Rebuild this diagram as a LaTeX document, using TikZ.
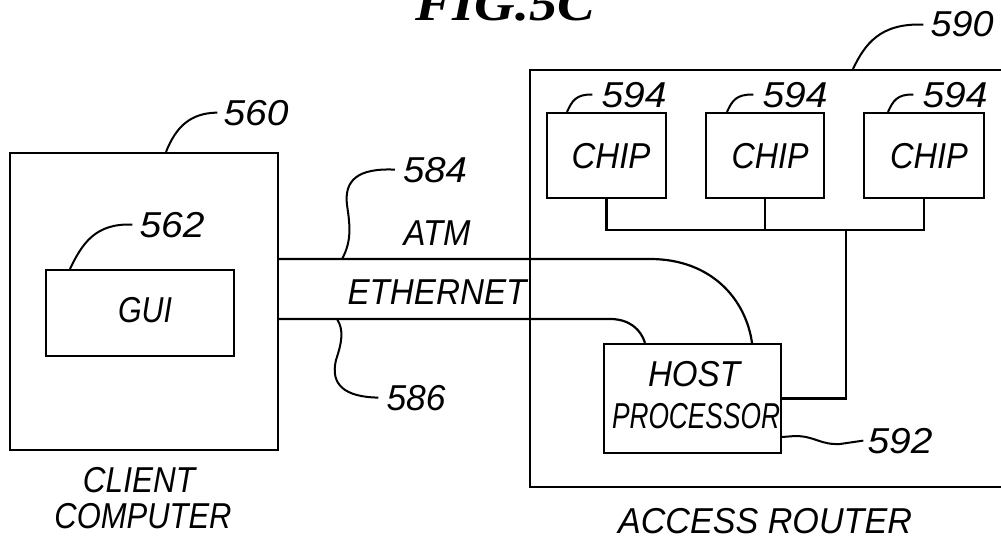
\documentclass[tikz,border=0pt]{standalone}
\usepackage{fontspec}
\setmainfont{Liberation Sans}
\newfontfamily\tfont{Liberation Serif}
\usetikzlibrary{calc}
\newcommand\fw[2]{\resizebox{#1pt}{\height}{#2}}
\tikzset{
  box/.style={draw, line width=2.2pt, inner sep=0pt},
  lab/.style={inner sep=0pt, anchor=base, font=\fontsize{36}{40}\selectfont\itshape},
  wire/.style={line width=2.2pt},
  lead/.style={line width=2pt},
}
\begin{document}
\begin{tikzpicture}[x=1pt,y=-1pt]
\useasboundingbox (0,0) rectangle (1001,543);
\clip (0,0) rectangle (1001,543);
% title
\node[inner sep=0pt, anchor=base, font=\tfont\fontsize{50}{54}\selectfont\bfseries\itshape] (title) at (505,21) {\fw{180}{FIG.5C}};
% client computer
\node[box, minimum width=268pt, minimum height=297pt] (cc) at (144,301.5) {};
\node[box, minimum width=188pt, minimum height=86pt] (gui) at (140,313) {};
\node[lab] (tgui) at (145,322) {\fw{54}{GUI}};
\node[lab] (n560) at (256,125) {\fw{65}{560}};
\node[lab] (n562) at (172,237) {\fw{65}{562}};
\node[lab] (tclient) at (139,492) {\fw{112}{CLIENT}};
\node[lab] (tcomp) at (143,528) {\fw{177}{COMPUTER}};
% access router
\node[box, minimum width=480pt, minimum height=417pt] (ar) at (770,278.5) {};
\node[lab] (n590) at (962,37) {\fw{63}{590}};
\node[lab] (tar) at (765,533) {\fw{294}{ACCESS ROUTER}};
\node[box, minimum width=119pt, minimum height=85pt] (c1) at (606.5,155.5) {};
\node[box, minimum width=118pt, minimum height=85pt] (c2) at (765,155.5) {};
\node[box, minimum width=120pt, minimum height=85pt] (c3) at (924,155.5) {};
\node[lab] (tc1) at (611,168) {\fw{79}{CHIP}};
\node[lab] (tc2) at (770,168) {\fw{77}{CHIP}};
\node[lab] (tc3) at (929,168) {\fw{78}{CHIP}};
\node[lab] (n594a) at (634,107) {\fw{65}{594}};
\node[lab] (n594b) at (795,107) {\fw{65}{594}};
\node[lab] (n594c) at (955,107) {\fw{65}{594}};
\node[box, minimum width=177pt, minimum height=109pt] (hp) at (692.5,398.5) {};
\node[lab] (thost) at (694,386) {\fw{92}{HOST}};
\node[lab] (tproc) at (696,428) {\fw{168}{PROCESSOR}};
\node[lab] (n592) at (900,453) {\fw{65}{592}};
% links
\node[lab] (tatm) at (437,245) {\fw{67}{ATM}};
\node[lab] (teth) at (437,304) {\fw{179}{ETHERNET}};
\node[lab] (n584) at (435,182) {\fw{64}{584}};
\node[lab] (n586) at (416,410) {\fw{59}{586}};
% wires
\draw[wire] (cc.east |- 0,259) -- (650,259) .. controls (712,259) and (746,300) .. (752,0 |- hp.north);
\draw[wire] (cc.east |- 0,319) -- (610,319) .. controls (630,319) and (641,330) .. (645,0 |- hp.north);
\draw[wire] (c1.south) -- (c1.south |- 0,230) -- (c3.south |- 0,230) -- (c3.south);
\draw[wire] (c2.south) -- (c2.south |- 0,230);
\draw[wire] (846,230) -- (846,0 |- hp.east) -- (hp.east);
% leaders
\draw[lead] (166,0 |- cc.north) .. controls (176,127) and (190,113) .. ([xshift=-6pt]n560.west);
\draw[lead] (70,0 |- gui.north) .. controls (82,244) and (95,223) .. ([xshift=-7pt]n562.west);
\draw[lead] (853,0 |- ar.north) .. controls (865,44) and (880,23) .. ([xshift=-7pt]n590.west);
\draw[lead] (567,0 |- c1.north) .. controls (572,101) and (576,94) .. ([xshift=-9pt]n594a.west);
\draw[lead] (727,0 |- c2.north) .. controls (732,101) and (736,94) .. ([xshift=-9pt]n594b.west);
\draw[lead] (888,0 |- c3.north) .. controls (893,101) and (897,94) .. ([xshift=-9pt]n594c.west);
\draw[lead] (342,259) .. controls (352,241) and (350,225) .. (347,205) .. controls (344,180) and (358,168) .. ([xshift=-8pt]n584.west);
\draw[lead] (337,319) .. controls (344,330) and (342,342) .. (336,360) .. controls (330,385) and (345,397) .. ([xshift=-8pt]n586.west);
\draw[lead] (hp.east |- 0,437) -- (795,436) .. controls (815,436) and (820,445) .. (840,444) -- ([xshift=-4pt]n592.west);
\end{tikzpicture}
\end{document}
